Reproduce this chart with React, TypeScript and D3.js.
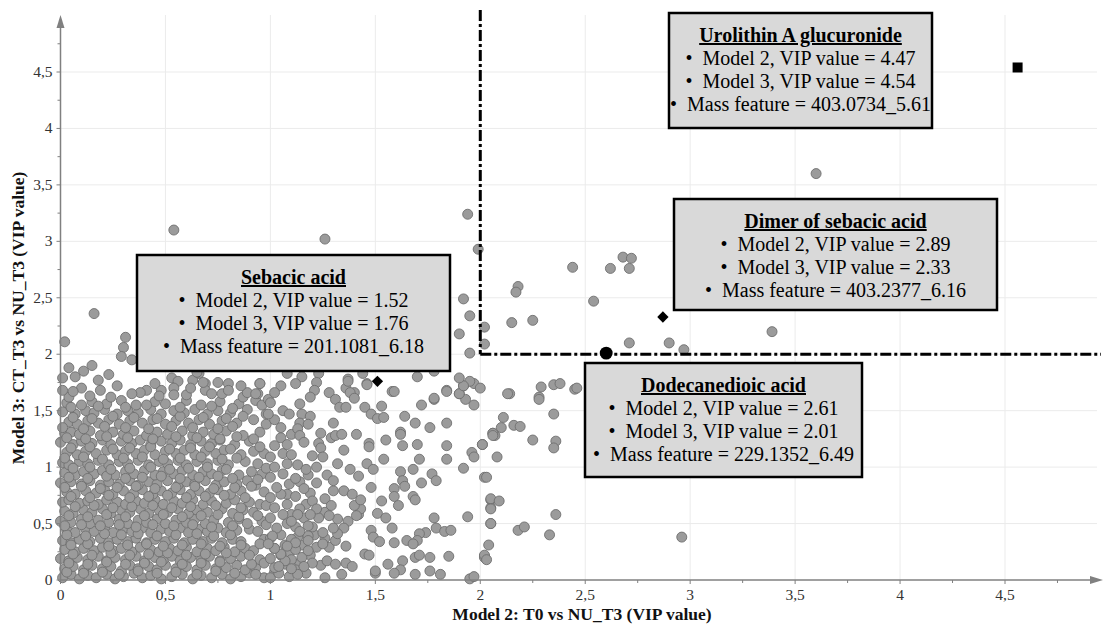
import React from "react";
import * as d3 from "d3";

// ---------- data ----------
const X_TICKS = [0, 0.5, 1, 1.5, 2, 2.5, 3, 3.5, 4, 4.5];
const Y_TICKS = [0, 0.5, 1, 1.5, 2, 2.5, 3, 3.5, 4, 4.5];
const MINOR_TICKS = [0.25, 0.75, 1.25, 1.75, 2.25, 2.75, 3.25, 3.75, 4.25, 4.75];
const TICK_LABELS = ["0", "0,5", "1", "1,5", "2", "2,5", "3", "3,5", "4", "4,5"];
const VIP_THRESHOLD = 2;

const X_TITLE = "Model 2: T0 vs NU_T3 (VIP value)";
const Y_TITLE = "Model 3: CT_T3 vs NU_T3 (VIP value)";

// dense core of the cloud (model2 VIP, model3 VIP)
const coreFeatures: number[] = [
  0.01,0.02, 0.05,0.05, 0.09,0.01, 0.13,0.04, 0.17,0.02, 0.22,0.05, 0.26,0.01, 0.30,0.03, 0.35,0.06, 0.39,0.02, 0.43,0.04, 0.48,0.01, 0.53,0.03, 0.58,0.05, 0.63,0.01, 0.67,0.04, 0.72,0.02, 0.77,0.05, 0.81,0.01, 0.86,0.03, 0.90,0.06, 0.97,0.02,
  0.02,0.10, 0.06,0.12, 0.11,0.09, 0.15,0.13, 0.20,0.10, 0.24,0.12, 0.29,0.08, 0.33,0.13, 0.37,0.10, 0.42,0.12, 0.46,0.09, 0.50,0.13, 0.55,0.10, 0.60,0.12, 0.65,0.09, 0.69,0.13, 0.74,0.10, 0.79,0.11, 0.84,0.13, 0.88,0.09, 0.93,0.11,
  0.00,0.19, 0.04,0.17, 0.08,0.20, 0.13,0.18, 0.18,0.21, 0.22,0.17, 0.26,0.20, 0.31,0.18, 0.36,0.21, 0.40,0.17, 0.45,0.20, 0.49,0.18, 0.53,0.21, 0.57,0.17, 0.62,0.20, 0.67,0.18, 0.71,0.21, 0.76,0.17, 0.81,0.19, 0.86,0.21, 0.95,0.18,
  0.02,0.27, 0.07,0.25, 0.11,0.28, 0.16,0.26, 0.20,0.29, 0.25,0.26, 0.29,0.28, 0.34,0.25, 0.38,0.29, 0.43,0.27, 0.47,0.25, 0.52,0.28, 0.56,0.26, 0.60,0.29, 0.65,0.25, 0.70,0.28, 0.74,0.26, 0.78,0.29, 0.83,0.25, 0.88,0.28, 0.92,0.26,
  0.01,0.35, 0.05,0.33, 0.09,0.36, 0.14,0.34, 0.19,0.37, 0.23,0.33, 0.27,0.36, 0.32,0.34, 0.36,0.37, 0.41,0.33, 0.45,0.36, 0.50,0.34, 0.54,0.37, 0.59,0.33, 0.63,0.36, 0.68,0.34, 0.72,0.37, 0.77,0.33, 0.82,0.36, 0.86,0.34, 0.97,0.36,
  0.03,0.44, 0.07,0.42, 0.12,0.45, 0.16,0.43, 0.21,0.46, 0.25,0.42, 0.30,0.45, 0.34,0.43, 0.39,0.46, 0.43,0.42, 0.48,0.45, 0.52,0.43, 0.57,0.46, 0.61,0.42, 0.66,0.45, 0.70,0.43, 0.75,0.46, 0.79,0.42, 0.84,0.44, 0.90,0.45, 0.94,0.43,
  0.00,0.52, 0.05,0.51, 0.10,0.54, 0.14,0.50, 0.18,0.53, 0.23,0.51, 0.28,0.54, 0.32,0.50, 0.37,0.53, 0.41,0.51, 0.46,0.54, 0.50,0.50, 0.55,0.53, 0.60,0.51, 0.64,0.54, 0.69,0.50, 0.73,0.53, 0.80,0.51, 0.85,0.54, 0.89,0.50, 0.96,0.52,
  0.02,0.61, 0.06,0.59, 0.11,0.62, 0.15,0.60, 0.20,0.63, 0.24,0.59, 0.29,0.62, 0.33,0.60, 0.38,0.63, 0.42,0.59, 0.47,0.62, 0.51,0.60, 0.56,0.63, 0.61,0.59, 0.65,0.62, 0.70,0.60, 0.77,0.63, 0.82,0.59, 0.87,0.62, 0.92,0.60,
  0.01,0.69, 0.04,0.71, 0.09,0.68, 0.13,0.70, 0.18,0.67, 0.22,0.71, 0.27,0.69, 0.31,0.67, 0.36,0.70, 0.40,0.68, 0.45,0.71, 0.49,0.67, 0.54,0.70, 0.58,0.68, 0.63,0.71, 0.68,0.67, 0.72,0.70, 0.79,0.68, 0.83,0.71, 0.90,0.69, 0.95,0.67,
  0.03,0.78, 0.07,0.76, 0.12,0.79, 0.17,0.77, 0.21,0.80, 0.25,0.76, 0.30,0.79, 0.35,0.77, 0.39,0.80, 0.44,0.76, 0.48,0.79, 0.53,0.77, 0.57,0.80, 0.62,0.76, 0.66,0.79, 0.71,0.77, 0.75,0.80, 0.81,0.76, 0.86,0.79, 0.97,0.78,
  0.00,0.86, 0.05,0.87, 0.10,0.85, 0.14,0.88, 0.19,0.84, 0.23,0.87, 0.28,0.85, 0.33,0.88, 0.37,0.84, 0.42,0.87, 0.46,0.85, 0.51,0.88, 0.56,0.84, 0.60,0.87, 0.64,0.85, 0.69,0.88, 0.74,0.84, 0.78,0.87, 0.84,0.85, 0.89,0.88, 0.93,0.84,
  0.02,0.95, 0.07,0.93, 0.11,0.96, 0.16,0.94, 0.20,0.97, 0.26,0.93, 0.31,0.96, 0.35,0.94, 0.40,0.97, 0.45,0.93, 0.49,0.96, 0.54,0.94, 0.58,0.97, 0.63,0.93, 0.68,0.96, 0.72,0.94, 0.77,0.97, 0.85,0.93, 0.91,0.96, 0.96,0.94,
  0.01,1.04, 0.04,1.02, 0.09,1.05, 0.13,1.03, 0.18,1.06, 0.23,1.02, 0.28,1.05, 0.32,1.03, 0.37,1.06, 0.42,1.02, 0.47,1.05, 0.51,1.03, 0.56,1.06, 0.60,1.02, 0.65,1.05, 0.70,1.03, 0.75,1.06, 0.80,1.02, 0.88,1.05, 0.94,1.03,
  0.03,1.13, 0.08,1.11, 0.12,1.14, 0.17,1.12, 0.22,1.15, 0.27,1.11, 0.31,1.14, 0.36,1.12, 0.40,1.15, 0.45,1.11, 0.50,1.14, 0.55,1.12, 0.59,1.15, 0.64,1.11, 0.69,1.14, 0.74,1.12, 0.78,1.15, 0.86,1.11, 0.92,1.14, 0.97,1.12,
  0.00,1.22, 0.06,1.20, 0.10,1.23, 0.15,1.21, 0.20,1.24, 0.24,1.20, 0.29,1.23, 0.34,1.21, 0.38,1.24, 0.43,1.20, 0.48,1.23, 0.53,1.21, 0.57,1.24, 0.62,1.20, 0.67,1.23, 0.72,1.21, 0.76,1.24, 0.83,1.20, 0.90,1.23,
  0.02,1.30, 0.05,1.31, 0.09,1.29, 0.14,1.32, 0.19,1.28, 0.25,1.31, 0.30,1.29, 0.35,1.32, 0.41,1.28, 0.46,1.31, 0.51,1.29, 0.58,1.32, 0.63,1.28, 0.68,1.31, 0.73,1.29, 0.79,1.32, 0.87,1.28, 0.95,1.31,
  0.04,1.40, 0.08,1.38, 0.13,1.41, 0.18,1.39, 0.23,1.42, 0.28,1.38, 0.33,1.41, 0.39,1.39, 0.44,1.42, 0.50,1.38, 0.55,1.41, 0.61,1.39, 0.66,1.42, 0.71,1.38, 0.77,1.41, 0.84,1.39, 0.92,1.42,
  0.01,1.49, 0.07,1.47, 0.12,1.50, 0.16,1.48, 0.21,1.51, 0.27,1.47, 0.32,1.50, 0.37,1.48, 0.43,1.51, 0.48,1.47, 0.54,1.50, 0.59,1.48, 0.64,1.51, 0.70,1.47, 0.75,1.50, 0.81,1.48, 0.89,1.51, 0.98,1.47,
  0.03,1.57, 0.10,1.55, 0.15,1.58, 0.22,1.56, 0.29,1.59, 0.36,1.55, 0.45,1.58, 0.50,1.56, 0.60,1.59, 0.67,1.55, 0.76,1.58, 0.85,1.56, 0.93,1.59,
];

// second, overlapping layer of the dense cloud
const coreFeatures2: number[] = [
  0.03,0.07, 0.11,0.06, 0.20,0.07, 0.28,0.05, 0.37,0.08, 0.46,0.06, 0.55,0.07, 0.65,0.05, 0.74,0.08, 0.83,0.06, 0.93,0.05, 1.02,0.07, 1.17,0.06,
  0.04,0.15, 0.13,0.14, 0.22,0.16, 0.31,0.14, 0.40,0.15, 0.48,0.16, 0.58,0.14, 0.67,0.15, 0.76,0.16, 0.91,0.14, 0.97,0.15, 1.14,0.15, 1.24,0.13,
  0.06,0.23, 0.15,0.22, 0.24,0.24, 0.33,0.22, 0.42,0.23, 0.51,0.24, 0.60,0.22, 0.69,0.23, 0.79,0.24, 0.90,0.22, 1.09,0.24, 1.19,0.22,
  0.05,0.31, 0.13,0.32, 0.23,0.30, 0.32,0.31, 0.41,0.32, 0.49,0.30, 0.58,0.31, 0.67,0.32, 0.76,0.30, 0.86,0.31, 0.95,0.32, 1.15,0.31, 1.28,0.29,
  0.03,0.40, 0.12,0.39, 0.21,0.41, 0.29,0.40, 0.37,0.41, 0.46,0.39, 0.55,0.40, 0.65,0.41, 0.73,0.39, 0.81,0.40, 1.13,0.38, 1.26,0.37,
  0.02,0.48, 0.10,0.49, 0.19,0.48, 0.28,0.49, 0.36,0.47, 0.44,0.49, 0.54,0.48, 0.63,0.49, 0.72,0.47, 0.82,0.48, 0.98,0.49, 1.12,0.47,
  0.04,0.57, 0.13,0.56, 0.22,0.58, 0.31,0.56, 0.40,0.57, 0.49,0.58, 0.58,0.56, 0.67,0.57, 0.75,0.58, 0.85,0.56, 0.94,0.57, 1.10,0.58, 1.26,0.60,
  0.07,0.65, 0.16,0.66, 0.25,0.64, 0.34,0.65, 0.44,0.66, 0.53,0.64, 0.62,0.65, 0.74,0.66, 0.86,0.64, 0.98,0.66, 1.17,0.67,
  0.05,0.74, 0.14,0.73, 0.23,0.75, 0.33,0.73, 0.42,0.74, 0.51,0.75, 0.60,0.73, 0.69,0.74, 0.78,0.75, 0.88,0.73, 1.08,0.76, 1.19,0.77,
  0.02,0.82, 0.10,0.83, 0.19,0.81, 0.27,0.82, 0.36,0.83, 0.45,0.81, 0.55,0.82, 0.64,0.83, 0.73,0.81, 0.83,0.82, 0.91,0.83, 1.14,0.87,
  0.04,0.91, 0.13,0.90, 0.22,0.92, 0.31,0.90, 0.39,0.91, 0.48,0.92, 0.57,0.90, 0.66,0.91, 0.75,0.92, 0.82,0.90, 0.94,0.89, 1.18,0.93,
  0.06,0.99, 0.14,1.00, 0.24,0.98, 0.33,0.99, 0.43,1.00, 0.52,0.98, 0.61,0.99, 0.70,1.00, 0.79,0.98, 0.98,0.99, 1.13,1.02,
  0.02,1.08, 0.11,1.09, 0.20,1.07, 0.30,1.08, 0.39,1.09, 0.49,1.07, 0.57,1.08, 0.67,1.09, 0.77,1.07, 0.84,1.08, 1.06,1.12, 1.20,1.10,
  0.05,1.17, 0.14,1.18, 0.25,1.16, 0.33,1.17, 0.43,1.18, 0.52,1.16, 0.62,1.17, 0.71,1.18, 0.81,1.16, 0.95,1.18, 1.02,1.19,
  0.03,1.26, 0.12,1.25, 0.22,1.27, 0.32,1.26, 0.44,1.25, 0.55,1.27, 0.65,1.26, 0.76,1.25, 0.84,1.27, 0.92,1.25, 1.10,1.29,
  0.01,1.35, 0.11,1.34, 0.21,1.36, 0.31,1.35, 0.42,1.34, 0.53,1.36, 0.63,1.35, 0.75,1.34, 0.82,1.36, 0.98,1.38,
  0.06,1.44, 0.15,1.43, 0.25,1.45, 0.35,1.44, 0.46,1.43, 0.57,1.45, 0.68,1.44, 0.79,1.43, 0.87,1.45, 1.02,1.42,
  0.05,1.53, 0.18,1.54, 0.31,1.53, 0.41,1.55, 0.57,1.53, 0.72,1.54, 0.82,1.52, 0.96,1.55, 0.04,1.62, 0.10,1.70,
  0.19,1.68, 0.23,1.82, 0.15,1.90, 0.04,1.88, 0.48,1.68, 0.60,1.64, 0.63,1.77, 0.75,1.75, 0.87,1.62, 0.99,1.60,
  1.05,1.72, 1.15,1.80, 1.28,1.66, 1.31,1.60,
];

// upper edge of the cloud (y 1.6 - 2.2, x < 1.5)
const edgeFeatures: number[] = [
  0.01,1.68, 0.06,1.67, 0.14,1.63, 0.27,1.72, 0.45,1.74, 0.41,1.68, 0.38,1.66, 0.34,1.65, 0.53,1.79, 0.56,1.76,
  0.54,1.70, 0.54,1.64, 0.69,1.74, 0.69,1.68, 0.72,1.65, 0.77,1.65, 0.80,1.74, 0.80,1.68, 0.89,1.66, 0.94,1.65,
  0.95,1.74, 0.66,1.83, 1.08,1.83, 0.11,1.85, 0.07,1.80, 0.01,1.79, 0.31,2.15, 0.30,2.06, 0.29,1.98, 0.34,1.95,
  0.65,1.84, 0.68,1.75, 0.62,1.70, 1.23,1.83, 1.22,1.75, 1.37,1.78, 1.36,1.70, 1.40,1.66, 1.44,1.83, 1.46,1.74,
  0.18,1.77, 0.24,1.62, 0.47,1.63, 0.86,1.72, 1.02,1.66, 1.12,1.74,
];

// x between 1 and 2
const midFeatures: number[] = [
  1.00,0.02, 1.04,0.06, 1.09,0.03, 1.02,0.11, 1.07,0.14, 1.12,0.09, 1.00,0.19, 1.05,0.22, 1.10,0.18, 1.15,0.20,
  1.02,0.28, 1.07,0.31, 1.12,0.27, 1.22,0.29, 1.00,0.37, 1.05,0.40, 1.10,0.36, 1.21,0.40, 1.03,0.46, 1.08,0.50,
  1.20,0.47, 1.00,0.55, 1.06,0.58, 1.16,0.55, 1.02,0.64, 1.08,0.67, 1.14,0.63, 1.20,0.70, 1.00,0.73, 1.05,0.76,
  1.12,0.74, 1.03,0.82, 1.09,0.85, 1.16,0.81, 1.22,0.86, 1.00,0.91, 1.06,0.94, 1.12,0.90, 1.02,1.00, 1.08,1.03,
  1.17,0.98, 1.00,1.09, 1.10,1.11,
  0.95,1.74, 0.93,1.65, 1.37,1.76, 1.46,1.73, 1.58,1.67, 1.84,1.68, 1.92,1.72, 1.97,1.74, 1.90,1.65, 1.93,1.60,
  1.97,1.55, 1.78,1.60, 1.72,1.55, 1.21,1.68, 1.19,1.62, 1.38,1.66, 1.40,1.61, 1.00,1.57, 1.14,1.56, 1.33,1.53,
  1.36,1.53, 1.45,1.53, 1.53,1.54, 1.48,1.47, 1.51,1.43, 1.54,1.44, 0.99,1.47, 1.06,1.50, 1.09,1.47, 1.15,1.47,
  1.19,1.45, 1.14,1.39, 1.18,1.38, 1.13,1.34, 1.05,1.35, 1.05,1.26, 1.08,1.20, 1.14,1.28, 1.16,1.22, 1.23,1.21,
  1.24,1.30, 1.30,1.39, 1.29,1.26, 1.31,1.28, 1.34,1.29, 1.41,1.29, 1.35,1.15, 1.24,1.17, 1.25,1.09, 1.32,1.03,
  1.47,1.21, 1.47,1.18, 1.55,1.24, 1.54,1.07, 1.46,1.03, 1.49,0.98, 1.48,0.82, 1.62,0.96, 1.64,1.45, 1.69,1.39,
  1.76,1.35, 1.62,1.31, 1.62,1.29, 1.63,1.19, 1.70,1.20, 1.71,1.07, 1.68,0.98, 1.72,0.86, 1.63,0.88, 1.64,0.83,
  1.59,0.81, 1.59,0.74, 1.68,0.74, 1.69,0.71, 1.61,0.66, 1.53,0.70, 1.51,0.59, 1.55,0.55, 1.77,0.94, 1.79,0.88,
  1.84,1.39, 1.84,1.19, 1.84,1.07, 1.92,0.99, 1.96,1.13, 1.97,1.09, 2.01,1.20, 2.06,1.30, 2.07,1.28, 2.02,0.91,
  2.05,0.71, 2.05,0.64, 2.05,0.50, 1.94,0.56, 1.78,0.55, 1.79,0.46, 1.83,0.43, 1.86,0.44, 1.74,0.42, 1.71,0.41,
  1.70,0.35, 1.65,0.35, 1.68,0.32, 1.58,0.46, 1.59,0.33, 1.48,0.44, 1.49,0.38, 1.52,0.34, 1.45,0.23, 1.47,0.22,
  1.56,0.14, 1.63,0.17, 1.69,0.20, 1.71,0.22, 1.76,0.20, 1.85,0.21, 1.76,0.08, 1.81,0.05, 1.62,0.09, 1.59,0.06,
  1.69,0.05, 1.50,0.06, 1.50,0.08, 2.02,0.21, 2.02,0.20, 1.95,0.01, 1.97,0.03, 1.42,0.58, 1.43,0.63, 1.40,0.66,
  1.43,0.71, 1.41,0.57, 1.37,0.52, 1.32,0.54, 1.35,0.46, 1.36,0.30, 1.31,0.35, 1.32,0.41, 1.26,0.72, 1.30,0.79,
  1.35,0.79, 1.39,0.76, 1.29,0.66, 1.28,0.57, 1.23,0.55, 1.30,0.46, 1.25,0.42, 1.25,0.32, 1.27,0.17, 1.31,0.14,
  1.36,0.15, 1.39,0.12, 1.34,0.05, 1.26,0.02, 1.22,0.63, 1.19,0.58, 1.18,0.48, 1.18,0.39, 1.18,0.35, 1.18,0.26,
  1.20,0.15, 1.16,0.12, 1.13,0.05, 1.10,0.10, 1.07,0.17, 1.04,0.12, 1.13,0.58, 1.10,0.52, 1.14,0.43, 1.12,0.33,
  1.08,0.30, 1.05,0.23, 1.02,0.28, 1.01,0.39, 0.99,0.32, 1.42,0.92, 1.38,0.98, 1.27,0.93, 1.22,1.00, 1.30,0.88,
  1.90,1.65, 1.84,1.67, 1.78,1.61, 1.59,1.67, 1.95,1.76, 1.92,1.72, 2.00,1.70, 1.90,1.79, 1.78,1.85, 1.70,1.80,
];

// x above 2 or y above 2
const tailFeatures: number[] = [
  1.94,3.24, 1.99,2.93, 2.44,2.77, 2.18,2.60, 2.17,2.55, 1.92,2.49, 1.95,2.34, 2.02,2.24, 2.15,2.28, 2.25,2.30,
  1.90,2.18, 2.02,2.09, 1.95,2.01, 2.71,2.10, 2.90,2.10, 2.97,2.04, 2.14,1.65, 2.29,1.71, 2.35,1.73, 2.38,1.74,
  2.28,1.62, 2.45,1.69, 2.13,1.65, 2.28,1.60, 2.46,1.70, 2.35,1.47, 2.11,1.44, 2.10,1.35, 2.16,1.37, 2.19,1.36,
  2.06,1.30, 2.06,1.28, 2.01,1.20, 2.25,1.24, 2.36,1.23, 2.35,1.17, 2.08,1.09, 2.03,0.91, 2.05,0.72, 2.09,0.70,
  2.05,0.63, 2.05,0.50, 2.18,0.44, 2.21,0.47, 2.36,0.58, 2.33,0.40, 2.04,0.31, 2.02,0.22, 2.03,0.18, 2.96,0.38,
  3.60,3.60, 3.39,2.20, 2.68,2.86, 2.72,2.85, 2.71,2.76, 2.62,2.76, 2.54,2.47, 0.54,3.10, 1.26,3.02, 0.16,2.36,
  0.02,2.11,
];

// annotated features
const COMPOUNDS = ["Urolithin A glucuronide", "Dimer of sebacic acid", "Sebacic acid", "Dodecanedioic acid"];
const MODEL2_VIP = ["4.47", "2.89", "1.52", "2.61"];
const MODEL3_VIP = ["4.54", "2.33", "1.76", "2.01"];
const MASS_FEATURES = ["403.0734_5.61", "403.2377_6.16", "201.1081_6.18", "229.1352_6.49"];
const MARKER_X = [4.56, 2.87, 1.51, 2.6];
const MARKER_Y = [4.54, 2.33, 1.76, 2.01];
const MARKER_SHAPES = ["square", "diamond", "diamond", "circle"];

// ---------- layout ----------
const BOXES = [
  { x: 669, y: 13, w: 263, h: 115 },
  { x: 674, y: 199, w: 323, h: 111 },
  { x: 137, y: 255, w: 313, h: 116 },
  { x: 585, y: 363, w: 277, h: 114 },
];

function pairs(a: number[]): [number, number][] {
  const out: [number, number][] = [];
  for (let i = 0; i + 1 < a.length; i += 2) out.push([a[i], a[i + 1]]);
  return out;
}

export default function App() {
  const W = 1105;
  const H = 625;
  const x = d3.scaleLinear().domain([0, 4.5]).range([60.5, 1005]);
  const y = d3.scaleLinear().domain([0, 4.5]).range([580, 72]);
  const xEnd = 1103;
  const yTop = 15;
  const axisColor = "#808080";
  const serif = "'Liberation Serif', 'Times New Roman', serif";

  const points = [
    ...pairs(coreFeatures),
    ...pairs(coreFeatures2),
    ...pairs(edgeFeatures),
    ...pairs(midFeatures),
    ...pairs(tailFeatures),
  ];

  const symbolFor = (s: string) => {
    if (s === "square") return { d: d3.symbol(d3.symbolSquare, 100)()!, rot: 0 };
    if (s === "diamond") return { d: d3.symbol(d3.symbolSquare, 64)()!, rot: 45 };
    return { d: d3.symbol(d3.symbolCircle, 130)()!, rot: 0 };
  };

  return (
    <svg
      width={W}
      height={H}
      style={{ position: "absolute", left: 0, top: 0, background: "#fff" }}
      fontFamily={serif}
    >
      <rect x={0} y={0} width={W} height={H} fill="#fff" />
      {/* grid */}
      {X_TICKS.slice(1).map((t) => (
        <line key={"gx" + t} x1={x(t)} x2={x(t)} y1={y(0)} y2={yTop} stroke="#ebebeb" strokeWidth={1} />
      ))}
      {Y_TICKS.slice(1).map((t) => (
        <line key={"gy" + t} x1={x(0)} x2={xEnd - 6} y1={y(t)} y2={y(t)} stroke="#ebebeb" strokeWidth={1} />
      ))}

      {/* points */}
      <g>
        {points.map(([px, py], i) => (
          <circle key={i} cx={x(px)} cy={y(py)} r={5} fill="#9b9b9b" stroke="#6f6f6f" strokeWidth={0.9} />
        ))}
      </g>

      {/* axes */}
      <line x1={x(0)} x2={xEnd - 4} y1={y(0)} y2={y(0)} stroke={axisColor} strokeWidth={1.5} />
      <path d={`M${xEnd},${y(0)} L${xEnd - 13},${y(0) - 4} L${xEnd - 13},${y(0) + 4} Z`} fill={axisColor} />
      <line x1={x(0)} x2={x(0)} y1={y(0)} y2={yTop + 4} stroke={axisColor} strokeWidth={1.5} />
      <path d={`M${x(0)},${yTop} L${x(0) - 4},${yTop + 13} L${x(0) + 4},${yTop + 13} Z`} fill={axisColor} />

      {X_TICKS.map((t) => (
        <line key={"tx" + t} x1={x(t)} x2={x(t)} y1={y(0)} y2={y(0) + 4} stroke={axisColor} strokeWidth={1} />
      ))}
      {MINOR_TICKS.map((t) => (
        <line key={"mx" + t} x1={x(t)} x2={x(t)} y1={y(0)} y2={y(0) + 3} stroke={axisColor} strokeWidth={1} />
      ))}
      {Y_TICKS.map((t) => (
        <line key={"ty" + t} x1={x(0) - 4} x2={x(0)} y1={y(t)} y2={y(t)} stroke={axisColor} strokeWidth={1} />
      ))}
      {MINOR_TICKS.map((t) => (
        <line key={"my" + t} x1={x(0) - 3} x2={x(0)} y1={y(t)} y2={y(t)} stroke={axisColor} strokeWidth={1} />
      ))}

      {X_TICKS.map((t, i) => (
        <text key={"lx" + t} x={x(t)} y={y(0) + 20} textAnchor="middle" fontSize={15.5} fill="#333">
          {TICK_LABELS[i]}
        </text>
      ))}
      {Y_TICKS.map((t, i) => (
        <text key={"ly" + t} x={x(0) - 8} y={y(t) + 5} textAnchor="end" fontSize={15.5} fill="#333">
          {TICK_LABELS[i]}
        </text>
      ))}

      <text x={582} y={620} textAnchor="middle" fontSize={17.5} fontWeight="bold" fill="#111">
        {X_TITLE}
      </text>
      <text
        transform={`translate(24,${318}) rotate(-90)`}
        textAnchor="middle"
        fontSize={17.5}
        fontWeight="bold"
        fill="#111"
      >
        {Y_TITLE}
      </text>

      {/* VIP threshold lines */}
      <line
        x1={x(VIP_THRESHOLD)}
        x2={x(VIP_THRESHOLD)}
        y1={10}
        y2={y(VIP_THRESHOLD)}
        stroke="#000"
        strokeWidth={3}
        strokeDasharray="11,3,3,3"
      />
      <line
        x1={x(VIP_THRESHOLD)}
        x2={1101}
        y1={y(VIP_THRESHOLD)}
        y2={y(VIP_THRESHOLD)}
        stroke="#000"
        strokeWidth={3}
        strokeDasharray="11,3,3,3"
      />

      {/* highlighted features */}
      {COMPOUNDS.map((c, i) => {
        const s = symbolFor(MARKER_SHAPES[i]);
        return (
          <path
            key={"m" + c}
            d={s.d}
            transform={`translate(${x(MARKER_X[i])},${y(MARKER_Y[i])}) rotate(${s.rot})`}
            fill="#000"
          />
        );
      })}

      {/* annotation boxes */}
      {COMPOUNDS.map((c, i) => {
        const b = BOXES[i];
        const cx = b.x + b.w / 2;
        return (
          <g key={"b" + c}>
            <rect x={b.x} y={b.y} width={b.w} height={b.h} fill="#d9d9d9" stroke="#000" strokeWidth={2.5} />
            <text x={cx} y={b.y + 29} textAnchor="middle" fontSize={20} fontWeight="bold" textDecoration="underline" fill="#000">
              {c}
            </text>
            <text x={cx} y={b.y + 52} textAnchor="middle" fontSize={20} fill="#000">
              {"\u2022\u2002Model 2, VIP value = " + MODEL2_VIP[i]}
            </text>
            <text x={cx} y={b.y + 75} textAnchor="middle" fontSize={20} fill="#000">
              {"\u2022\u2002Model 3, VIP value = " + MODEL3_VIP[i]}
            </text>
            <text x={cx} y={b.y + 98} textAnchor="middle" fontSize={20} fill="#000">
              {"\u2022\u2002Mass feature = " + MASS_FEATURES[i]}
            </text>
          </g>
        );
      })}
    </svg>
  );
}
